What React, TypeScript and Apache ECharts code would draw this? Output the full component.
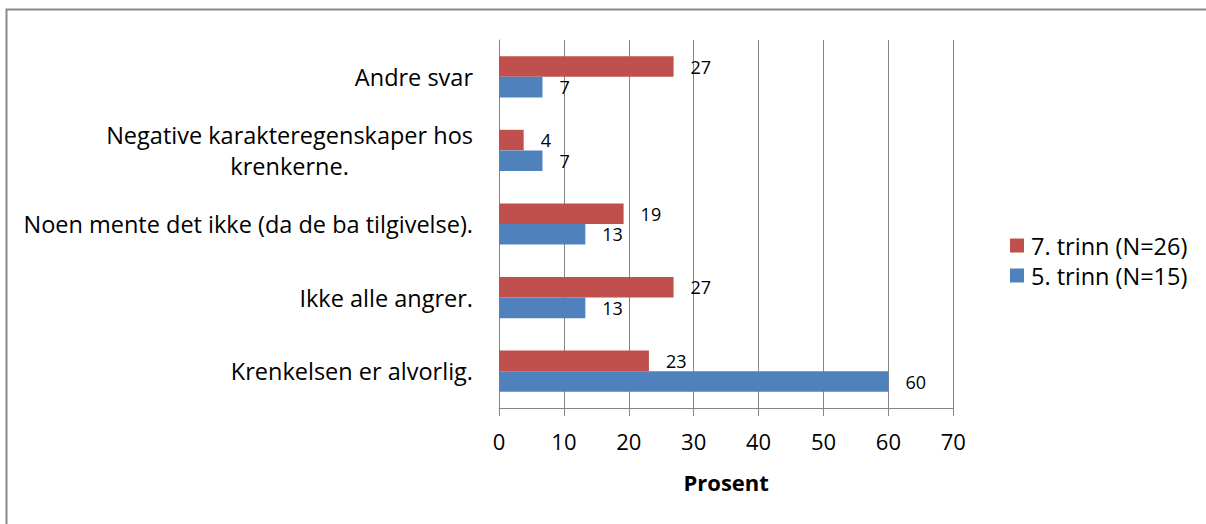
import React, { useEffect, useRef } from "react";
import * as echarts from "echarts";

const categories = [
  "Krenkelsen er alvorlig.",
  "Ikke alle angrer.",
  "Noen mente det ikke (da de ba tilgivelse).",
  "Negative karakteregenskaper hos\nkrenkerne.",
  "Andre svar",
];
const seriesNames = ["7. trinn (N=26)", "5. trinn (N=15)"];
const trinn5 = [60, 13.3, 13.3, 6.7, 6.7];
const trinn7 = [23.1, 26.9, 19.2, 3.8, 26.9];
const xTicks = { min: 0, max: 70, interval: 10 };

const FONT = "'Open Sans', 'Noto Sans', sans-serif";

export default function App() {
  const ref = useRef<HTMLDivElement>(null);
  useEffect(() => {
    if (!ref.current) return;
    const chart = echarts.init(ref.current, undefined, { renderer: "svg" });
    const labelCfg = {
      show: true,
      position: "right" as const,
      distance: 17,
      color: "#000",
      fontSize: 18,
      fontFamily: FONT,
      formatter: (p: any) => String(Math.round(p.value)),
    };
    chart.setOption({
      animation: false,
      backgroundColor: "#fff",
      textStyle: { fontFamily: FONT },
      grid: { left: 499, right: 252.7, top: 40, bottom: 116, containLabel: false },
      legend: {
        orient: "vertical",
        left: 1010,
        top: 233.5,
        padding: 0,
        itemWidth: 14,
        itemHeight: 14,
        itemGap: 6,
        icon: "rect",
        data: [seriesNames[0], seriesNames[1]],
        textStyle: { fontSize: 23.5, color: "#000", fontFamily: FONT, padding: [0, 0, 0, 2] },
      },
      xAxis: {
        type: "value",
        min: xTicks.min,
        max: xTicks.max,
        interval: xTicks.interval,
        name: "Prosent",
        nameLocation: "middle",
        nameGap: 63,
        nameTextStyle: { fontSize: 22, fontWeight: "bold", color: "#000", fontFamily: FONT, verticalAlign: "top" },
        axisLine: { show: true, lineStyle: { color: "#868686", width: 1 } },
        axisTick: { show: true, length: 8, lineStyle: { color: "#868686" } },
        splitLine: { show: true, lineStyle: { color: "#868686", width: 1 } },
        axisLabel: { fontSize: 22, color: "#000", margin: 22, fontFamily: FONT },
      },
      yAxis: {
        type: "category",
        data: categories,
        axisLine: { show: true, lineStyle: { color: "#868686", width: 1 } },
        axisTick: { show: false },
        splitLine: { show: false },
        axisLabel: {
          margin: 26,
          color: "#000",
          fontSize: 23.5,
          fontFamily: FONT,
          formatter: (v: string) =>
            v
              .split("\n")
              .map((l) => `{c|${l}}`)
              .join("\n"),
          rich: {
            c: { align: "center", fontSize: 23.5, fontFamily: FONT, color: "#000", lineHeight: 30.5 },
          },
        },
      },
      graphic: [
        {
          type: "rect",
          shape: { x: 6.5, y: 9.5, width: 1400, height: 800 },
          style: { fill: "none", stroke: "#898989", lineWidth: 2 },
          silent: true,
          z: -1,
        },
      ],
      series: [
        {
          name: seriesNames[0],
          type: "bar",
          data: trinn7,
          barWidth: 20.6,
          barGap: "0%",
          itemStyle: { color: "#C0504D" },
          label: labelCfg,
        },
        {
          name: seriesNames[1],
          type: "bar",
          data: trinn5,
          barWidth: 20.6,
          barGap: "0%",
          itemStyle: { color: "#4F81BD" },
          label: labelCfg,
        },
      ],
    });
    return () => chart.dispose();
  }, []);
  return (
    <div
      ref={ref}
      style={{ position: "fixed", left: 0, top: 0, width: 1206, height: 524 }}
    />
  );
}
